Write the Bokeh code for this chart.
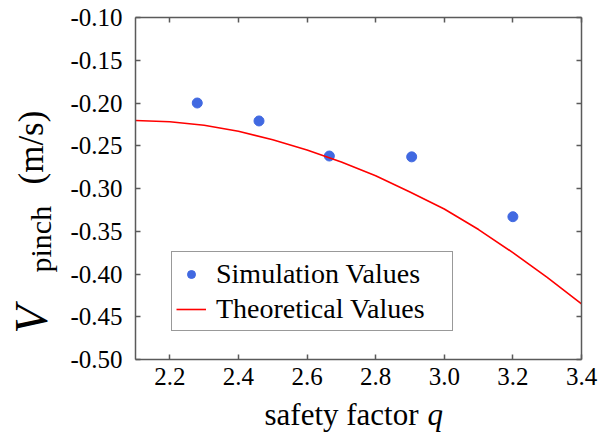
import math
from bokeh.plotting import figure
from bokeh.layouts import row, column
from bokeh.models import LinearAxis, FixedTicker, Range1d, Legend, LegendItem
from bokeh.core.properties import value
from bokeh.embed import file_html
from bokeh.resources import INLINE

# ---- data ----
sim_q = [2.28, 2.46, 2.665, 2.905, 3.20]
sim_v = [-0.200, -0.221, -0.262, -0.263, -0.333]

theo_q = [2.10, 2.20, 2.30, 2.40, 2.50, 2.60, 2.70, 2.80, 2.90, 3.00, 3.10, 3.20, 3.30, 3.40]
theo_v = [-0.2205, -0.222, -0.226, -0.233, -0.243, -0.255, -0.269, -0.285, -0.304, -0.324,
          -0.348, -0.375, -0.404, -0.435]

x_ticks = [2.2, 2.4, 2.6, 2.8, 3.0, 3.2, 3.4]
x_tick_labels = ["2.2", "2.4", "2.6", "2.8", "3.0", "3.2", "3.4"]
y_ticks = [-0.10, -0.15, -0.20, -0.25, -0.30, -0.35, -0.40, -0.45, -0.50]
y_tick_labels = ["-0.10", "-0.15", "-0.20", "-0.25", "-0.30", "-0.35", "-0.40", "-0.45", "-0.50"]

x_label = "safety factor"
x_label_var = "q"
y_label_main = "V"
y_label_sub = "pinch"
y_label_unit = "(m/s)"
legend_labels = ["Simulation Values", "Theoretical Values"]

FONT = "Liberation Serif"
AX_COLOR = "#5a5a5a"

# ---- main plot ----
p = figure(width=546, height=396, output_backend="svg", toolbar_location=None,
           x_range=Range1d(2.1, 3.4), y_range=Range1d(-0.50, -0.10),
           x_axis_type=None, y_axis_type=None, frame_align=False,
           min_border_left=75, min_border_right=25, min_border_top=17, min_border_bottom=37)
p.grid.visible = False
p.outline_line_color = None


def make_axis(ticks, labels, show_labels, standoff):
    ax = LinearAxis(ticker=FixedTicker(ticks=ticks))
    ax.major_label_overrides = {t: l for t, l in zip(ticks, labels)}
    ax.major_tick_in = 5
    ax.major_tick_out = 0
    ax.minor_tick_in = 0
    ax.minor_tick_out = 0
    ax.axis_line_color = AX_COLOR
    ax.axis_line_width = 1.5
    ax.major_tick_line_color = AX_COLOR
    ax.major_tick_line_width = 1.5
    ax.major_label_text_font = FONT
    if show_labels:
        ax.major_label_text_color = "black"
        ax.major_label_text_font_size = "25px"
        ax.major_label_standoff = standoff
    else:
        ax.major_label_text_color = None
        ax.major_label_text_font_size = "1px"
        ax.major_label_standoff = 0
    return ax

p.add_layout(make_axis(x_ticks, x_tick_labels, True, 8), "below")
p.add_layout(make_axis(y_ticks, y_tick_labels, True, 13), "left")
p.add_layout(make_axis(x_ticks, x_tick_labels, False, 0), "above")
p.add_layout(make_axis(y_ticks, y_tick_labels, False, 0), "right")

r_sim = p.scatter(sim_q, sim_v, size=10, color="#4169E1", marker="circle")
r_theo = p.line(theo_q, theo_v, line_color="#FF0000", line_width=1.6)

legend = Legend(items=[LegendItem(label=legend_labels[0], renderers=[r_sim]),
                       LegendItem(label=legend_labels[1], renderers=[r_theo])],
                location=(36, 28))
legend.label_text_font = FONT
legend.label_text_font_size = "28px"
legend.label_text_color = "black"
legend.label_height = 35
legend.label_width = 232
legend.glyph_width = 30
legend.glyph_height = 20
legend.label_standoff = 10
legend.spacing = 0
legend.padding = 4
legend.margin = 0
legend.border_line_color = "#333333"
legend.border_line_width = 1.5
p.add_layout(legend, "center")


def strip(w, h):
    f = figure(width=w, height=h, output_backend="svg", toolbar_location=None,
               x_range=Range1d(0, w), y_range=Range1d(0, h), frame_align=False,
               x_axis_type=None, y_axis_type=None, min_border=0)
    f.grid.visible = False
    f.outline_line_color = None
    return f

# ---- y label strip (rotated text, reads bottom to top) ----
H = 396
ly = strip(60, H)
ang = math.pi / 2
ly.text(x=[31], y=[H - 333], text=[y_label_main], angle=ang,
        text_font=value(FONT), text_font_size=value("46px"), text_font_style="italic",
        text_color="black", text_align="left", text_baseline="middle")
ly.text(x=[40], y=[H - 272], text=[y_label_sub], angle=ang,
        text_font=value(FONT), text_font_size=value("30px"),
        text_color="black", text_align="left", text_baseline="middle")
ly.text(x=[31], y=[H - 184], text=[y_label_unit], angle=ang,
        text_font=value(FONT), text_font_size=value("35px"),
        text_color="black", text_align="left", text_baseline="middle")

# ---- x label strip ----
lx = strip(606, 432 - H)
lx.text(x=[264], y=[432 - 414], text=[x_label],
        text_font=value(FONT), text_font_size=value("31px"),
        text_color="black", text_align="left", text_baseline="middle")
lx.text(x=[427], y=[432 - 414], text=[x_label_var],
        text_font=value(FONT), text_font_size=value("31px"), text_font_style="italic",
        text_color="black", text_align="left", text_baseline="middle")

layout = column(row(ly, p, spacing=0), lx, spacing=0)
open("out.html", "w").write(file_html(layout, INLINE))
